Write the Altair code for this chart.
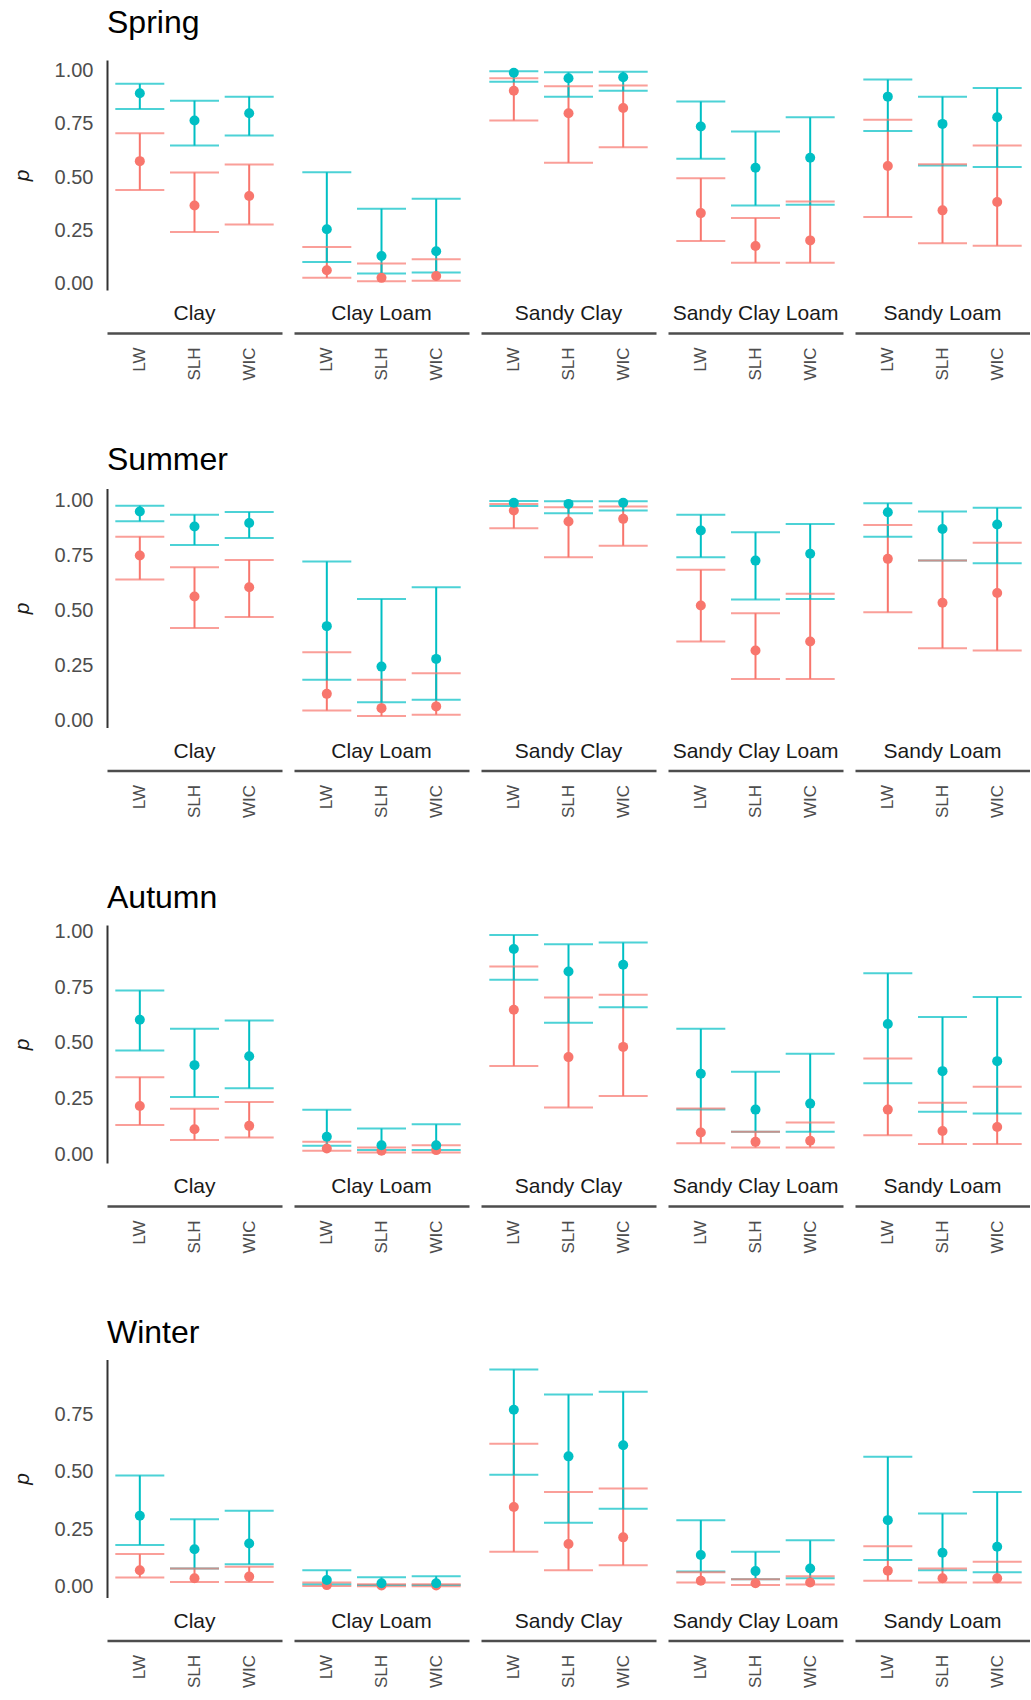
import altair as alt
import pandas as pd

SOILS = ["Clay", "Clay Loam", "Sandy Clay", "Sandy Clay Loam", "Sandy Loam"]
TREATMENTS = ["LW", "SLH", "WIC"]
SEASONS = ["Spring", "Summer", "Autumn", "Winter"]
GROUPS = ["Group 1", "Group 2"]
GROUP_COLORS = ["#F8766D", "#00BFC4"]

# Estimated p and interval bounds, soil by soil (LW, SLH, WIC within each soil)
spring_g1_est = [0.575, 0.367, 0.411, 0.063, 0.027, 0.036, 0.906, 0.800, 0.825, 0.331, 0.177, 0.203, 0.552, 0.344, 0.383]
spring_g1_lo = [0.440, 0.242, 0.278, 0.027, 0.011, 0.014, 0.766, 0.567, 0.640, 0.200, 0.098, 0.098, 0.313, 0.190, 0.178]
spring_g1_hi = [0.706, 0.522, 0.559, 0.172, 0.094, 0.114, 0.964, 0.927, 0.930, 0.495, 0.308, 0.386, 0.770, 0.560, 0.648]
spring_g2_est = [0.894, 0.766, 0.800, 0.255, 0.130, 0.152, 0.990, 0.964, 0.969, 0.738, 0.544, 0.591, 0.878, 0.750, 0.781]
spring_g2_lo = [0.820, 0.648, 0.695, 0.102, 0.047, 0.052, 0.948, 0.878, 0.906, 0.586, 0.367, 0.370, 0.717, 0.555, 0.548]
spring_g2_hi = [0.938, 0.859, 0.878, 0.523, 0.352, 0.398, 0.997, 0.992, 0.995, 0.855, 0.714, 0.781, 0.958, 0.878, 0.919]

summer_g1_est = [0.750, 0.564, 0.606, 0.121, 0.056, 0.064, 0.955, 0.905, 0.917, 0.523, 0.318, 0.359, 0.735, 0.535, 0.580]
summer_g1_lo = [0.641, 0.420, 0.470, 0.045, 0.020, 0.026, 0.874, 0.742, 0.795, 0.359, 0.189, 0.189, 0.492, 0.329, 0.318]
summer_g1_hi = [0.836, 0.697, 0.730, 0.310, 0.185, 0.215, 0.985, 0.970, 0.973, 0.685, 0.488, 0.576, 0.889, 0.727, 0.808]
summer_g2_est = [0.950, 0.882, 0.898, 0.429, 0.245, 0.280, 0.990, 0.985, 0.990, 0.864, 0.727, 0.758, 0.947, 0.871, 0.891]
summer_g2_lo = [0.906, 0.798, 0.830, 0.185, 0.083, 0.094, 0.975, 0.942, 0.955, 0.742, 0.550, 0.553, 0.836, 0.727, 0.715]
summer_g2_hi = [0.977, 0.936, 0.948, 0.723, 0.553, 0.606, 0.998, 0.997, 0.997, 0.936, 0.856, 0.894, 0.988, 0.950, 0.967]

autumn_g1_est = [0.216, 0.112, 0.127, 0.025, 0.015, 0.018, 0.649, 0.436, 0.482, 0.097, 0.055, 0.060, 0.200, 0.104, 0.122]
autumn_g1_lo = [0.131, 0.063, 0.075, 0.015, 0.007, 0.007, 0.396, 0.209, 0.261, 0.049, 0.030, 0.030, 0.085, 0.045, 0.045]
autumn_g1_hi = [0.346, 0.204, 0.234, 0.055, 0.030, 0.040, 0.843, 0.704, 0.716, 0.205, 0.100, 0.142, 0.430, 0.231, 0.303]
autumn_g2_est = [0.604, 0.400, 0.440, 0.078, 0.040, 0.040, 0.922, 0.821, 0.851, 0.361, 0.200, 0.227, 0.585, 0.373, 0.418]
autumn_g2_lo = [0.466, 0.257, 0.296, 0.037, 0.018, 0.018, 0.784, 0.590, 0.660, 0.201, 0.100, 0.100, 0.318, 0.190, 0.182]
autumn_g2_hi = [0.736, 0.563, 0.601, 0.199, 0.115, 0.134, 0.985, 0.943, 0.951, 0.563, 0.370, 0.451, 0.813, 0.616, 0.706]

winter_g1_est = [0.072, 0.037, 0.044, 0.007, 0.005, 0.005, 0.347, 0.186, 0.215, 0.026, 0.015, 0.018, 0.070, 0.037, 0.037]
winter_g1_lo = [0.040, 0.020, 0.020, 0.003, 0.002, 0.002, 0.152, 0.072, 0.094, 0.018, 0.007, 0.010, 0.026, 0.018, 0.018]
winter_g1_hi = [0.142, 0.079, 0.087, 0.018, 0.011, 0.011, 0.623, 0.413, 0.428, 0.063, 0.032, 0.046, 0.176, 0.079, 0.109]
winter_g2_est = [0.309, 0.163, 0.188, 0.029, 0.015, 0.015, 0.771, 0.568, 0.616, 0.138, 0.068, 0.079, 0.290, 0.148, 0.174]
winter_g2_lo = [0.182, 0.079, 0.098, 0.011, 0.007, 0.007, 0.488, 0.279, 0.340, 0.066, 0.032, 0.037, 0.116, 0.072, 0.063]
winter_g2_hi = [0.485, 0.294, 0.331, 0.072, 0.041, 0.046, 0.946, 0.838, 0.850, 0.290, 0.152, 0.202, 0.566, 0.319, 0.413]

SERIES = {
    "Spring": [(spring_g1_est, spring_g1_lo, spring_g1_hi), (spring_g2_est, spring_g2_lo, spring_g2_hi)],
    "Summer": [(summer_g1_est, summer_g1_lo, summer_g1_hi), (summer_g2_est, summer_g2_lo, summer_g2_hi)],
    "Autumn": [(autumn_g1_est, autumn_g1_lo, autumn_g1_hi), (autumn_g2_est, autumn_g2_lo, autumn_g2_hi)],
    "Winter": [(winter_g1_est, winter_g1_lo, winter_g1_hi), (winter_g2_est, winter_g2_lo, winter_g2_hi)],
}

# Per-season y range, panel height, tick values and title gap
Y_DOMAINS = {"Spring": [-0.03, 1.05], "Summer": [-0.032, 1.055], "Autumn": [-0.04, 1.03], "Winter": [-0.047, 0.99]}
PANEL_HEIGHTS = {"Spring": 230, "Summer": 239, "Autumn": 238, "Winter": 238}
Y_TICKS = {"Spring": [0, 0.25, 0.5, 0.75, 1.0], "Summer": [0, 0.25, 0.5, 0.75, 1.0],
           "Autumn": [0, 0.25, 0.5, 0.75, 1.0], "Winter": [0, 0.25, 0.5, 0.75]}
TITLE_OFFSETS = {"Spring": 20, "Summer": 12, "Autumn": 7, "Winter": 10}

PANEL_W = 175
FONT = "Liberation Sans"


def season_frame(season):
    rows = []
    for grp, (est, lo, hi) in zip(GROUPS, SERIES[season]):
        k = 0
        for soil in SOILS:
            for trt in TREATMENTS:
                rows.append({"soil": soil, "trt": trt, "grp": grp,
                             "est": est[k], "lo": lo[k], "hi": hi[k]})
                k += 1
    return pd.DataFrame(rows)


def season_chart(season):
    h = PANEL_HEIGHTS[season]
    yscale = alt.Scale(domain=Y_DOMAINS[season], nice=False, zero=False)
    yaxis = alt.Axis(values=Y_TICKS[season], format=".2f", title="p", grid=False,
                     ticks=False, labelPadding=14, labelFontSize=20, labelColor="#4D4D4D",
                     domain=True, domainColor="#333333", domainWidth=2,
                     titleFontStyle="italic", titleFontWeight="normal", titleFontSize=21,
                     titleColor="#1A1A1A", titlePadding=22)

    def y(field):
        return alt.Y(f"{field}:Q", scale=yscale, axis=yaxis, title="p")

    x = alt.X("trt:N", sort=TREATMENTS, title=None,
              scale=alt.Scale(type="point", padding=0.6),
              axis=alt.Axis(orient="bottom", offset=43, labelAngle=-90, labelPadding=14,
                            labelFontSize=17, labelColor="#4D4D4D", ticks=False,
                            domain=True, domainColor="#4D4D4D", domainWidth=2.5, grid=False))
    color = alt.Color("grp:N", scale=alt.Scale(domain=GROUPS, range=GROUP_COLORS), legend=None)

    base = alt.Chart().encode(x=x, color=color)
    bars = base.mark_rule(strokeWidth=2).encode(y=y("lo"), y2="hi:Q")
    caps_lo = base.mark_tick(size=49, thickness=2).encode(y=y("lo"))
    caps_hi = base.mark_tick(size=49, thickness=2).encode(y=y("hi"))
    points = base.mark_circle(size=100, opacity=1).encode(y=y("est"))
    soil_label = alt.Chart().mark_text(
        fontSize=21, color="#1A1A1A", font=FONT, baseline="middle", align="center"
    ).encode(
        x=alt.value(PANEL_W / 2), y=alt.value(h + 24), text="soil:N"
    ).transform_filter(
        (alt.datum.trt == TREATMENTS[0]) & (alt.datum.grp == GROUPS[0])
    )

    layered = alt.layer(bars, caps_lo, caps_hi, points, soil_label).properties(
        width=PANEL_W, height=h)

    return layered.facet(
        column=alt.Column("soil:N", sort=SOILS, title=None,
                          header=alt.Header(labels=False, title=None)),
        data=season_frame(season),
        spacing=12,
        bounds="flush",
    ).properties(
        title=alt.TitleParams(season, anchor="start", frame="group", fontSize=32,
                              fontWeight="normal", color="#000000", font=FONT,
                              offset=TITLE_OFFSETS[season])
    )


chart = alt.vconcat(*[season_chart(s) for s in SEASONS], spacing=62.5).resolve_scale(
    x="independent", y="independent"
).properties(
    padding={"left": 11, "top": 7, "right": 0, "bottom": 0}
).configure(
    font=FONT, view=alt.ViewConfig(stroke=None)
)

chart.save("out.html", embed_options={"renderer": "svg", "actions": False})
